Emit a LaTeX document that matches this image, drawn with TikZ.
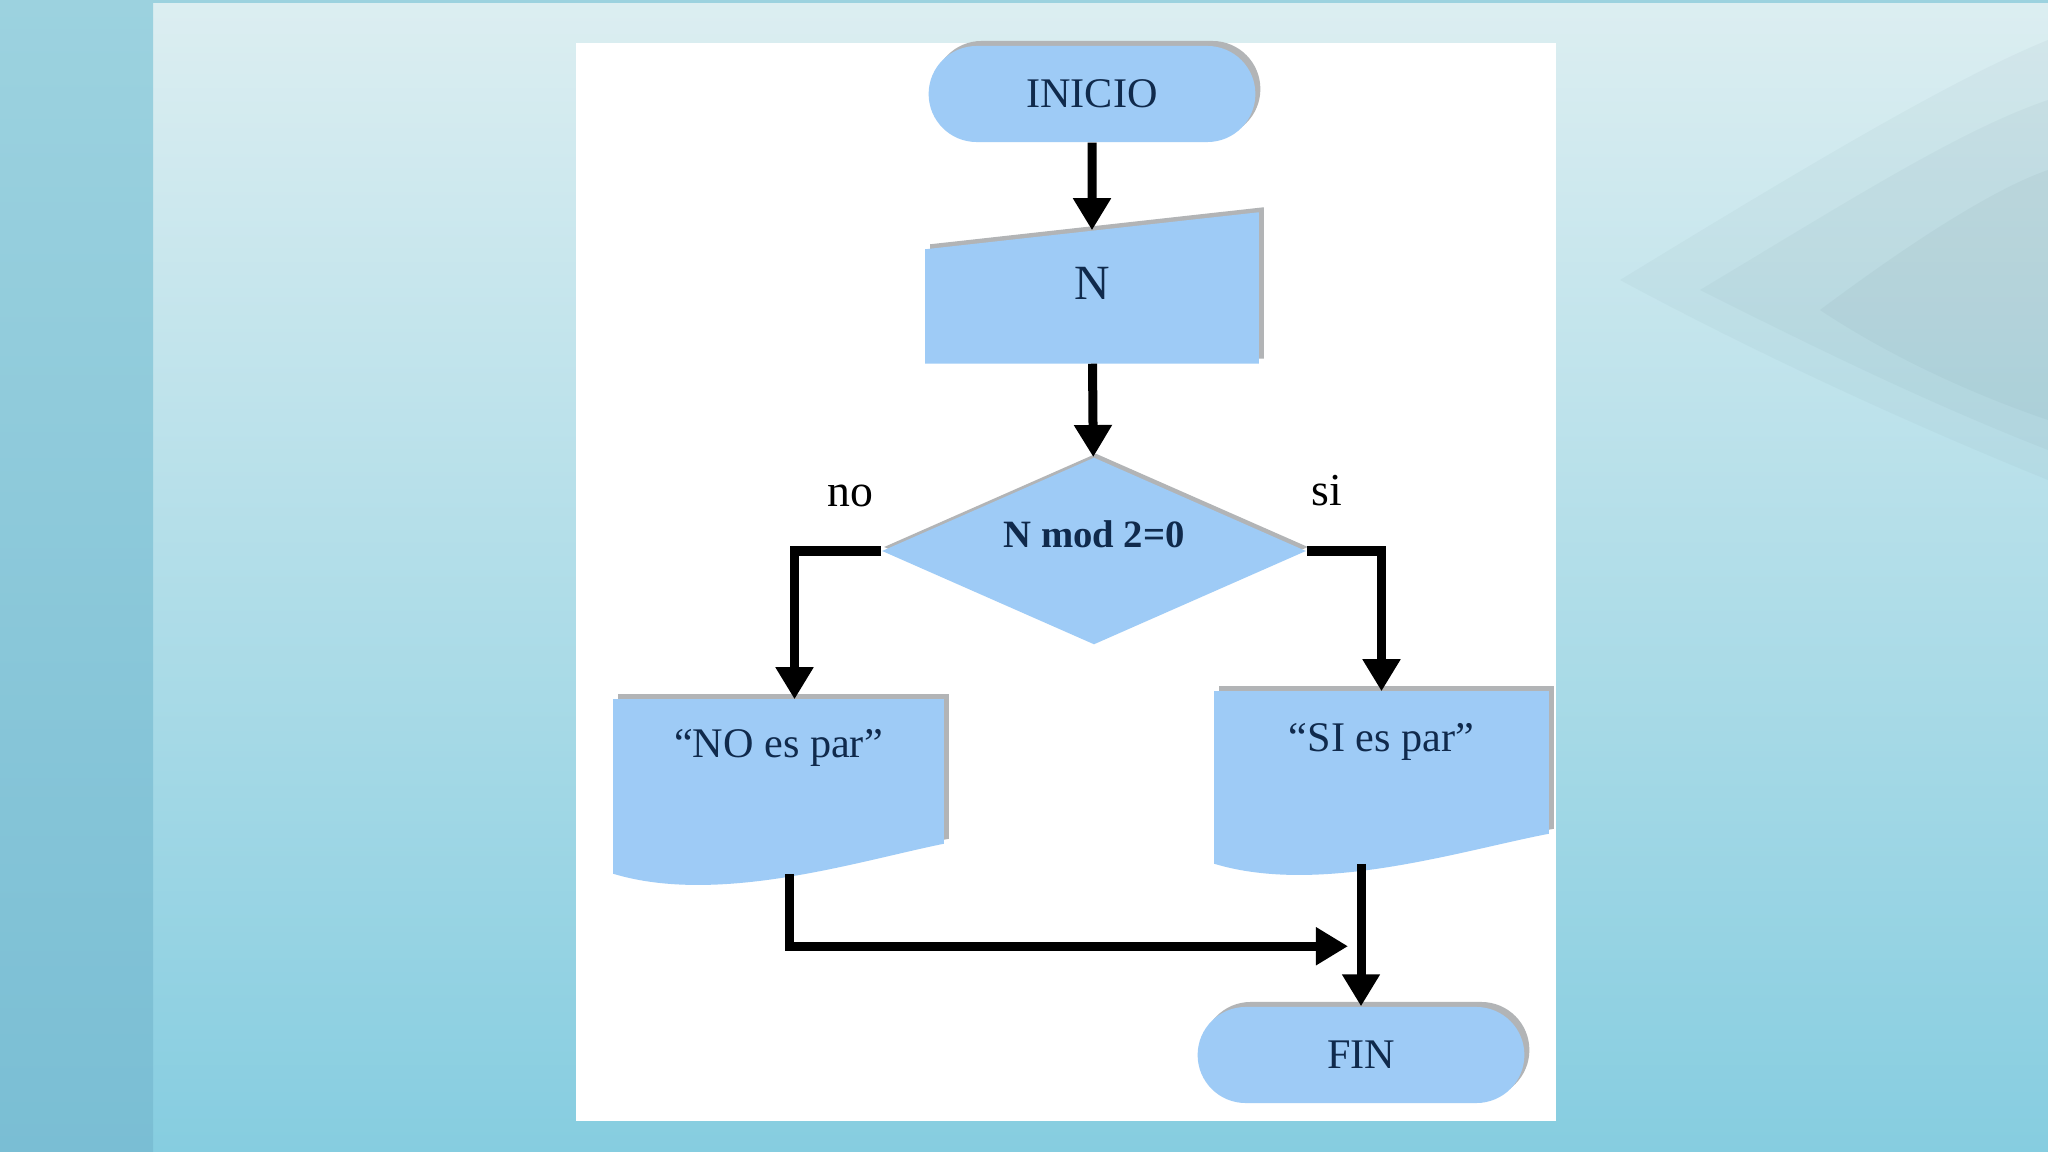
\documentclass[tikz,border=0pt]{standalone}
\usepackage{fontspec}
\setmainfont{Liberation Serif}
\usetikzlibrary{shapes.geometric,shapes.misc,arrows.meta,calc,shadows,backgrounds}

\begin{document}
\begin{tikzpicture}[x=0.01cm,y=-0.01cm,
    >={Triangle[length=0.32cm,width=0.36cm]},
    flecha/.style={->,line width=0.09cm,black},
    sombreado/.style={drop shadow={shadow xshift=0.05cm,shadow yshift=0.05cm,fill=sombra,opacity=1}},
    terminal/.style={rounded rectangle,fill=azul,sombreado,minimum width=3.5cm,minimum height=0.96cm,
      text=tinta,font=\fontsize{12}{14}\selectfont},
    decision/.style={diamond,aspect=2.27,fill=azul,drop shadow={shadow xshift=0.02cm,shadow yshift=0.04cm,fill=sombra,opacity=1},
      minimum width=4.24cm,minimum height=1.87cm,inner sep=0pt,text=tinta,
      font=\bfseries\fontsize{11}{13}\selectfont,text height=0.26cm,text depth=0.32cm},
    caja/.style={inner sep=0pt,text=tinta,font=\fontsize{12}{14}\selectfont},
    etiqueta/.style={text=black,font=\fontsize{13}{15}\selectfont}]
    % colours %
    \definecolor{azul}{RGB}{158,203,246}
    \definecolor{sombra}{RGB}{178,180,182}
    \definecolor{tinta}{RGB}{16,42,76}
    \definecolor{fondoalto}{RGB}{220,238,241}
    \definecolor{fondomedio}{RGB}{190,227,234}
    \definecolor{fondobajo}{RGB}{134,205,224}
    \definecolor{franjaalta}{RGB}{156,210,223}
    \definecolor{franjabaja}{RGB}{122,190,212}
    \definecolor{grisazul}{RGB}{120,150,158}

    \useasboundingbox (0,0) rectangle (2048,1152);

    % slide background and white sheet %
    \begin{scope}[on background layer]
      \shade[top color=fondoalto,middle color=fondomedio,bottom color=fondobajo] (153,0) rectangle (2048,1152);
      \shade[top color=franjaalta,bottom color=franjabaja] (0,0) rectangle (153,1152);
      \fill[franjaalta] (0,0) rectangle (2048,3);
      \fill[grisazul,opacity=0.07] (1620,280) .. controls (1800,170) and (1950,80) .. (2048,40)
        -- (2048,480) .. controls (1900,420) and (1750,350) .. cycle;
      \fill[grisazul,opacity=0.08] (1700,290) .. controls (1850,200) and (1960,130) .. (2048,100)
        -- (2048,450) .. controls (1920,400) and (1800,340) .. cycle;
      \fill[grisazul,opacity=0.09] (1820,310) .. controls (1900,250) and (1990,190) .. (2048,170)
        -- (2048,420) .. controls (1960,390) and (1880,350) .. cycle;
      \fill[white] (576,43) rectangle (1556,1121);
    \end{scope}

    % flowchart nodes %
    \node[terminal] (inicio) at (1092,94) {INICIO};
    \node[caja,minimum width=3.32cm,text height=0.69cm,text depth=0.63cm,
      font=\fontsize{14}{16}\selectfont] (n) at (1092,297) {N};
    \node[decision] (dec) at (1094,551) {N mod 2=0};
    \node[caja,minimum width=3.29cm,text height=0.58cm,text depth=1.15cm] (no) at (778.5,786.5) {“NO es par”};
    \node[caja,minimum width=3.33cm,text height=0.60cm,text depth=1.11cm] (si) at (1381.5,777.5) {“SI es par”};
    \node[terminal] (fin) at (1361,1055) {FIN};
    \node[etiqueta] (lblno) at (850,496) {no};
    \node[etiqueta] (lblsi) at (1327,491) {si};

    % input and output shapes behind their texts %
    \begin{scope}[on background layer]
      \fill[azul,sombreado] (n.south west) -- ($(n.north west)+(0,19)$) -- ($(n.north east)+(0,-18)$)
        -- (n.south east) -- cycle;
      \fill[azul,sombreado] (no.north west) -- (no.south west)
        .. controls ($(no.south west)+(106,32)$) and ($(no.south west)+(246,-13)$) .. ($(no.south east)+(0,-30)$)
        -- (no.north east) -- cycle;
      \fill[azul,sombreado] (si.north west) -- (si.south west)
        .. controls ($(si.south west)+(106,32)$) and ($(si.south west)+(246,-13)$) .. ($(si.south east)+(0,-30)$)
        -- (si.north east) -- cycle;
    \end{scope}

    % connectors %
    \coordinate (junta) at ([yshift=0.6cm]fin.north);
    \draw[flecha] (inicio) -- (n);
    \draw[flecha] (n) -- (dec);
    \draw[flecha] (dec.west) -| ([xshift=0.16cm]no.north);
    \draw[flecha] (dec.east) -| (si.north);
    \draw[flecha] (si.south -| fin.north) -- (fin.north);
    \draw[flecha] ([xshift=0.11cm]no.south) |- ([xshift=-0.13cm]junta);
\end{tikzpicture}
\end{document}
